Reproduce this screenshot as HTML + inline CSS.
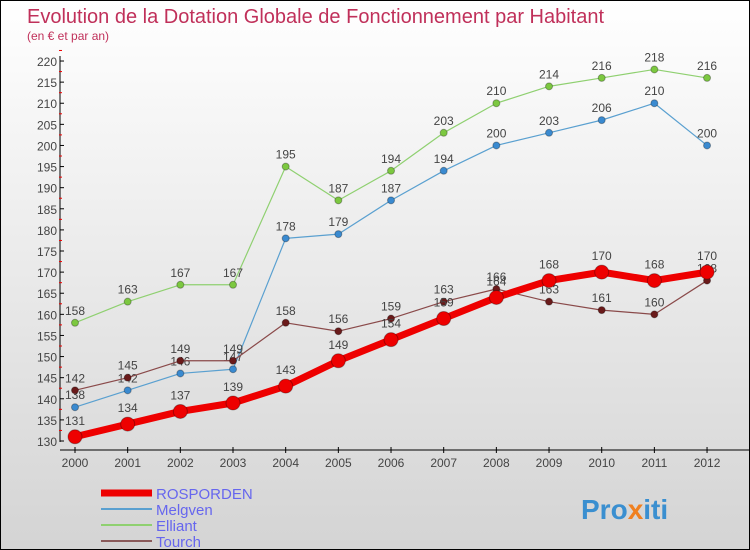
<!DOCTYPE html>
<html><head><meta charset="utf-8"><style>
body{margin:0}
#c{width:748px;height:548px;border:1px solid #000;background:linear-gradient(#fff,#d4d4d4);position:relative;font-family:"Liberation Sans",sans-serif;overflow:hidden}
text{font-family:"Liberation Sans",sans-serif}
</style></head><body>
<div id="c">
<svg id="s" width="748" height="548">
<text x="26" y="22" font-size="20" fill="#c0305a">Evolution de la Dotation Globale de Fonctionnement par Habitant</text>
<text x="26" y="39" font-size="12" fill="#c0305a">(en € et par an)</text>
<text x="580" y="518" font-size="28" font-weight="bold" fill="#3a8fd0">Pro<tspan fill="#f08020">x</tspan>iti</text>
</svg>
</div>
<script>
const years=[2000,2001,2002,2003,2004,2005,2006,2007,2008,2009,2010,2011,2012];
const yTicks=[130,135,140,145,150,155,160,165,170,175,180,185,190,195,200,205,210,215,220];
const rosporden=[131,134,137,139,143,149,154,159,164,168,170,168,170];
const melgven=[138,142,146,147,178,179,187,194,200,203,206,210,200];
const elliant=[158,163,167,167,195,187,194,203,210,214,216,218,216];
const tourch=[142,145,149,149,158,156,159,163,166,163,161,160,168];
const NS="http://www.w3.org/2000/svg";
const svg=document.getElementById('s');
const X=i=>74+i*52.67;
const Y=v=>440-(v-130)*4.222;
function el(t,a,p){const e=document.createElementNS(NS,t);for(const k in a)e.setAttribute(k,a[k]);(p||svg).appendChild(e);return e;}
// axes
let ax=el('line',{x1:59,y1:55,x2:59,y2:441,stroke:'#000'});


let ax2=el('line',{x1:59,y1:449,x2:748,y2:449,stroke:'#000'});


yTicks.forEach(v=>{
 el('line',{x1:59,y1:Y(v),x2:63,y2:Y(v),stroke:'#000'});
 el('line',{x1:58,y1:Y(v+2.5),x2:61,y2:Y(v+2.5),stroke:'#e00'});
 const t=el('text',{x:56,y:Y(v)+5,'font-size':12,fill:'#444','text-anchor':'end'});
 t.textContent=v;
 
 
});
years.forEach((y,i)=>{
 el('line',{x1:X(i),y1:446,x2:X(i),y2:452,stroke:'#000'});
 const t=el('text',{x:X(i),y:466,'font-size':12,fill:'#444','text-anchor':'middle'});
 t.textContent=y;
 
 
});
function series(data,color,dot,w,r,name){
 const g=el('g',{});
 
 
 el('polyline',{points:data.map((v,i)=>X(i)+','+Y(v)).join(' '),fill:'none',stroke:color,'stroke-width':w,'stroke-linejoin':'round'},g);
 data.forEach((v,i)=>{
  const c=el('circle',{cx:X(i),cy:Y(v),r:r,fill:dot,stroke:'rgba(0,0,0,0.3)','stroke-width':1},g);
  
  
  const t=el('text',{x:X(i),y:Y(v)-8-(r>4?4:0),'font-size':12,fill:'#444','text-anchor':'middle'},g);
  t.textContent=v;
  
  
 });
}
series(elliant,'#8fd070','#7cc840',1.2,3.5,'elliant');
series(melgven,'#5aa0d0','#3a8ad0',1.2,3.5,'melgven');
series(tourch,'#8a4a4a','#6a1a1a',1.2,3.5,'tourch');
series(rosporden,'#ee0000','#ee0000',7,7,'rosporden');
// legend
const leg=[['ROSPORDEN','#ee0000',7],['Melgven','#5aa0d0',2],['Elliant','#8fd070',2],['Tourch','#8a5a5a',2]];
leg.forEach((l,i)=>{
 const y=492+i*16;
 const g=el('g',{});
 
 
 el('line',{x1:100,y1:y,x2:151,y2:y,stroke:l[1],'stroke-width':l[2]},g);
 const t=el('text',{x:155,y:y+6,'font-size':15,fill:'#6666ee'},g);
 t.textContent=l[0];
});
</script>
</body></html>
